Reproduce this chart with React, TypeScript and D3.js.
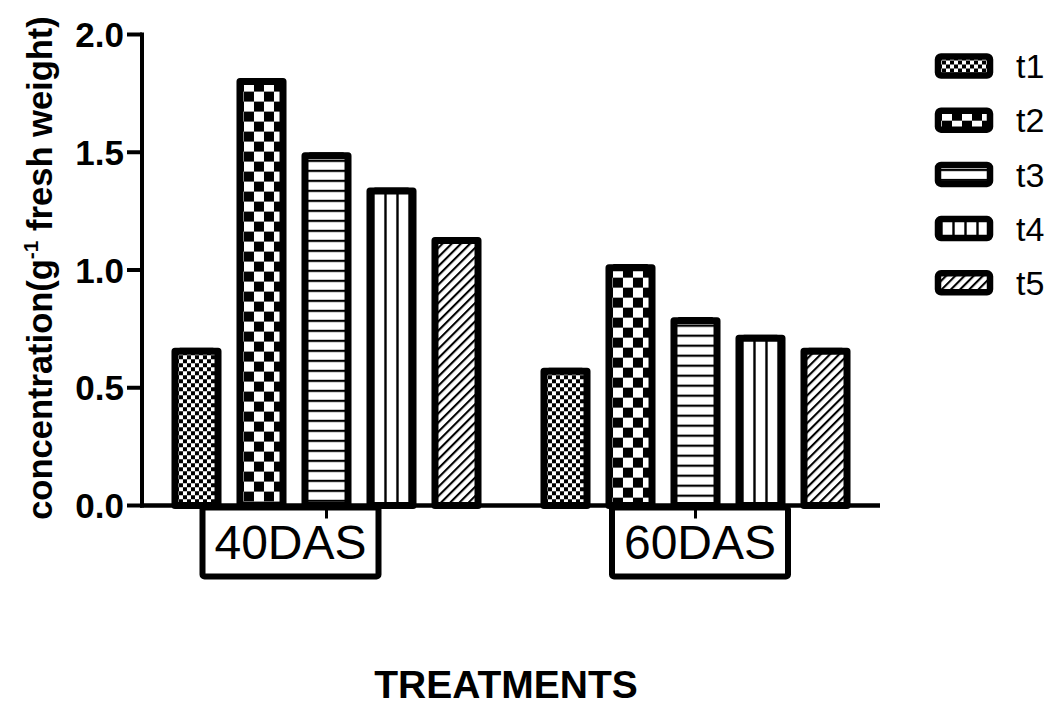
import React from "react";
import * as d3 from "d3";

// Sampling times and treatments
const categories = ["40DAS", "60DAS"];
const treatments = ["t1", "t2", "t3", "t4", "t5"];

// Mean concentration per treatment (g^-1 fresh weight)
const values40 = [0.655, 1.8, 1.485, 1.335, 1.125];
const values60 = [0.57, 1.01, 0.785, 0.71, 0.655];

// Standard errors
const errors40 = [0.01, 0.01, 0.01, 0.01, 0.01];
const errors60 = [0.01, 0.01, 0.01, 0.01, 0.01];

const yTicks = [0, 0.5, 1.0, 1.5, 2.0];

const W = 1060;
const H = 707;
const FONT = "'Liberation Sans', Arial, Helvetica, sans-serif";

// plot frame
const X0 = 142;
const X1 = 880;
const Y_TOP = 34.5;
const Y_BASE = 505.5;

// horizontal offset of each category label box from its tick
const labelBoxOffset = [-36, 4.5];

const patternIds = ["pat-t1", "pat-t2", "pat-t3", "pat-t4", "pat-t5"];

function Patterns() {
  return (
    <defs>
      {/* fine checkerboard */}
      <pattern id="pat-t1" patternUnits="userSpaceOnUse" width={8} height={8} x={0} y={0}>
        <rect width={8} height={8} fill="#fff" />
        <rect x={0} y={0} width={4} height={4} fill="#000" />
        <rect x={4} y={4} width={4} height={4} fill="#000" />
      </pattern>
      {/* coarse checkerboard */}
      <pattern id="pat-t2" patternUnits="userSpaceOnUse" width={20} height={20} x={-6} y={0}>
        <rect width={20} height={20} fill="#fff" />
        <rect x={0} y={0} width={10} height={10} fill="#000" />
        <rect x={10} y={10} width={10} height={10} fill="#000" />
      </pattern>
      {/* horizontal lines */}
      <pattern id="pat-t3" patternUnits="userSpaceOnUse" width={10} height={10}>
        <rect width={10} height={10} fill="#fff" />
        <rect x={0} y={4} width={10} height={2.2} fill="#000" />
      </pattern>
      {/* vertical lines */}
      <pattern id="pat-t4" patternUnits="userSpaceOnUse" width={12} height={12}>
        <rect width={12} height={12} fill="#fff" />
        <rect x={2.3} y={0} width={2.4} height={12} fill="#000" />
      </pattern>
      {/* diagonal hatching */}
      <pattern
        id="pat-t5"
        patternUnits="userSpaceOnUse"
        width={6.5}
        height={6.5}
        patternTransform="rotate(45)"
      >
        <rect width={6.5} height={6.5} fill="#fff" />
        <rect x={0} y={0} width={2.1} height={6.5} fill="#000" />
      </pattern>
    </defs>
  );
}

export default function App() {
  const y = d3.scaleLinear().domain([0, 2]).range([Y_BASE, Y_TOP]);
  const xGroup = d3.scalePoint<string>().domain(categories).range([X0, X1]).padding(0.5);
  const xInner = d3
    .scaleBand<string>()
    .domain(treatments)
    .range([-162.5, 162.5])
    .paddingInner(0.338)
    .paddingOuter(0.169);
  const bw = xInner.bandwidth();

  const series = [values40, values60];
  const errs = [errors40, errors60];

  const barStroke = 7;

  return (
    <svg
      width={W}
      height={H}
      viewBox={`0 0 ${W} ${H}`}
      style={{ position: "absolute", left: 0, top: 0, background: "#fff", display: "block" }}
      fontFamily={FONT}
    >
      <Patterns />
      <rect width={W} height={H} fill="#fff" />

      {/* bars */}
      {categories.map((cat, ci) => {
        const cx = xGroup(cat)!;
        return (
          <g key={cat}>
            {treatments.map((t, ti) => {
              const v = series[ci][ti];
              const e = errs[ci][ti];
              const bx = cx + xInner(t)!;
              const top = y(v);
              return (
                <g key={t}>
                  <g transform={`translate(${bx},${top})`}>
                    <rect
                      x={0}
                      y={0}
                      width={bw}
                      height={Y_BASE - top}
                      fill={`url(#${patternIds[ti]})`}
                      stroke="#000"
                      strokeWidth={barStroke}
                      strokeLinejoin="round"
                    />
                  </g>
                  {/* error bar */}
                  <line
                    x1={bx + bw / 2}
                    x2={bx + bw / 2}
                    y1={top}
                    y2={y(v + e)}
                    stroke="#000"
                    strokeWidth={3}
                  />
                  <line
                    x1={bx + bw * 0.12}
                    x2={bx + bw * 0.88}
                    y1={y(v + e)}
                    y2={y(v + e)}
                    stroke="#000"
                    strokeWidth={2.5}
                    strokeLinecap="round"
                  />
                </g>
              );
            })}
          </g>
        );
      })}

      {/* y axis */}
      <line x1={X0} x2={X0} y1={Y_TOP - 2} y2={Y_BASE + 2} stroke="#000" strokeWidth={4} />
      {yTicks.map((v) => (
        <g key={v}>
          <line x1={X0 - 15} x2={X0} y1={y(v)} y2={y(v)} stroke="#000" strokeWidth={4} />
          <text
            x={X0 - 18}
            y={y(v)}
            dy="0.36em"
            textAnchor="end"
            fontSize={35}
            fontWeight="bold"
            fill="#000"
          >
            {v.toFixed(1)}
          </text>
        </g>
      ))}

      {/* x axis */}
      <line x1={X0 - 2} x2={X1} y1={Y_BASE} y2={Y_BASE} stroke="#000" strokeWidth={4.5} />
      {categories.map((cat, ci) => {
        const cx = xGroup(cat)!;
        const bxc = cx + labelBoxOffset[ci];
        const boxW = 176;
        const boxH = 69;
        return (
          <g key={cat}>
            <rect
              x={bxc - boxW / 2}
              y={Y_BASE + 2}
              width={boxW}
              height={boxH}
              fill="#fff"
              stroke="#000"
              strokeWidth={6}
              rx={2}
            />
            <line x1={cx} x2={cx} y1={Y_BASE} y2={Y_BASE + 13} stroke="#000" strokeWidth={3} />
            <text
              x={bxc}
              y={Y_BASE + 2 + boxH / 2}
              dy="0.36em"
              textAnchor="middle"
              fontSize={48}
              fill="#000"
            >
              {cat}
            </text>
          </g>
        );
      })}

      {/* y axis title */}
      <text
        transform={`translate(52,${(Y_TOP + Y_BASE) / 2 - 2}) rotate(-90)`}
        textAnchor="middle"
        fontSize={34.5}
        fontWeight="bold"
        fill="#000"
      >
        <tspan>concentration(g</tspan>
        <tspan dy={-14} fontSize={21}>
          -1
        </tspan>
        <tspan dy={14}> fresh weight)</tspan>
      </text>

      {/* x axis title */}
      <text x={506} y={698} textAnchor="middle" fontSize={39} fontWeight="bold" fill="#000">
        TREATMENTS
      </text>

      {/* legend */}
      {treatments.map((t, i) => {
        const ly = 66 + i * 54.2;
        return (
          <g key={t}>
            <g transform={`translate(938,${ly - 9.5})`}>
              <rect
                x={0}
                y={0}
                width={52}
                height={19}
                fill={`url(#${patternIds[i]})`}
                stroke="#000"
                strokeWidth={6.5}
                rx={3}
              />
            </g>
            <text x={1016} y={ly} dy="0.36em" fontSize={34} fill="#000">
              {t}
            </text>
          </g>
        );
      })}
    </svg>
  );
}
